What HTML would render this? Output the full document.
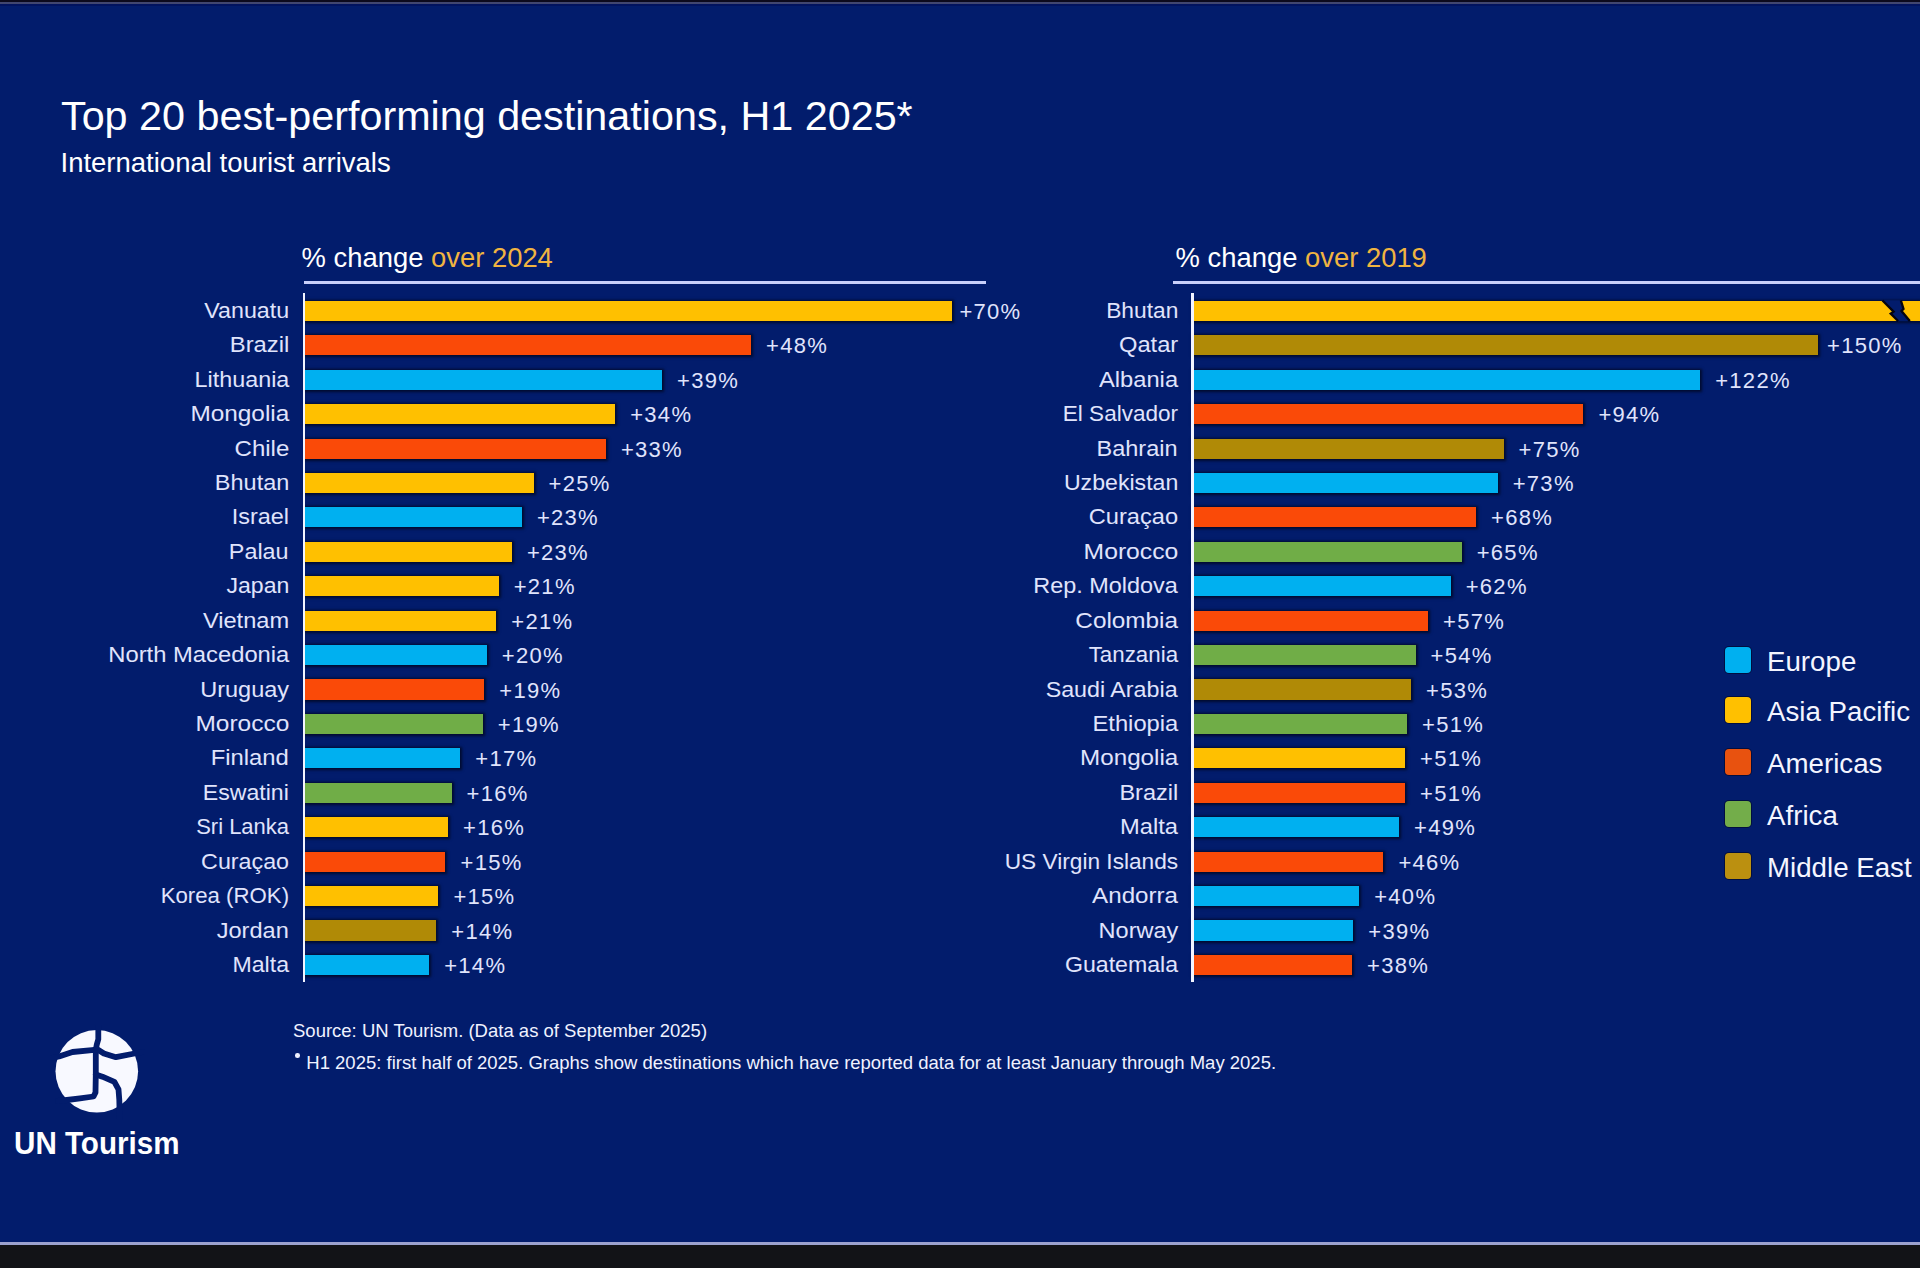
<!DOCTYPE html>
<html><head><meta charset="utf-8">
<style>
html,body{margin:0;padding:0;}
body{width:1920px;height:1268px;overflow:hidden;position:relative;background:#121317;font-family:"Liberation Sans",sans-serif;}
#top{position:absolute;left:0;top:0;width:1920px;height:2px;background:#0c0a1c;}
#topl{position:absolute;left:0;top:2px;width:1920px;height:2px;background:#41466f;}
#main{position:absolute;left:0;top:4px;width:1920px;height:1238px;background:#021c6c;}
#botl{position:absolute;left:0;top:1242px;width:1920px;height:3px;background:#9ca2cf;}
.t{position:absolute;white-space:nowrap;color:#fff;}
.lab{position:absolute;white-space:nowrap;color:#e0e4fc;font-size:22.5px;line-height:30px;text-align:right;transform-origin:100% 50%;}
.pct{position:absolute;white-space:nowrap;color:#e0e4fc;font-size:22px;line-height:30px;letter-spacing:1.3px;}
.bar{position:absolute;box-shadow:0 0 2.5px 1.5px rgba(0,0,10,0.62);}
.axis{position:absolute;width:2.2px;background:#f2f4ff;z-index:2;}
.hl{position:absolute;height:3px;background:#c9d0fa;}
.lg{position:absolute;width:26px;height:26px;border-radius:4px;box-shadow:0 0 0 1px rgba(0,0,20,0.5);}
.lgt{position:absolute;white-space:nowrap;color:#f4f5ff;font-size:27.7px;line-height:32px;}
.or{color:#f0b441;}
</style></head><body>
<div id="top"></div><div id="topl"></div><div style="position:absolute;left:0;top:4px;width:1920px;height:1.5px;background:#01135e;z-index:1"></div><div id="main"></div><div id="botl"></div>
<div class="t" style="left:61px;top:91.7px;font-size:41.3px;line-height:48px;">Top 20 best-performing destinations, H1 2025*</div>
<div class="t" style="left:60.5px;top:146.8px;font-size:27.5px;line-height:32px;">International tourist arrivals</div>

<div class="t" style="left:301.6px;top:241.7px;font-size:27.4px;line-height:32px;">% change <span class="or">over 2024</span></div>
<div class="hl" style="left:304px;top:280.5px;width:682px;"></div>
<div class="axis" style="left:303px;top:293px;height:689px;"></div>
<div class="lab" style="top:295.9px;right:1631.0px;transform:scaleX(1.0325)">Vanuatu</div>
<div class="bar" style="left:305.0px;top:300.8px;width:646.8px;height:20.2px;background:#ffc000"></div>
<div class="pct" style="top:296.9px;left:959.4px">+70%</div>
<div class="lab" style="top:330.3px;right:1631.0px;transform:scaleX(1.0577)">Brazil</div>
<div class="bar" style="left:305.0px;top:335.2px;width:446.0px;height:20.2px;background:#fa4a08"></div>
<div class="pct" style="top:331.3px;left:766.1px">+48%</div>
<div class="lab" style="top:364.7px;right:1631.0px;transform:scaleX(1.0371)">Lithuania</div>
<div class="bar" style="left:305.0px;top:369.6px;width:357.0px;height:20.2px;background:#00b0f0"></div>
<div class="pct" style="top:365.7px;left:677.1px">+39%</div>
<div class="lab" style="top:399.2px;right:1631.0px;transform:scaleX(1.0831)">Mongolia</div>
<div class="bar" style="left:305.0px;top:404.1px;width:310.1px;height:20.2px;background:#ffc000"></div>
<div class="pct" style="top:400.2px;left:630.2px">+34%</div>
<div class="lab" style="top:433.6px;right:1631.0px;transform:scaleX(1.0673)">Chile</div>
<div class="bar" style="left:305.0px;top:438.5px;width:300.8px;height:20.2px;background:#fa4a08"></div>
<div class="pct" style="top:434.6px;left:620.9px">+33%</div>
<div class="lab" style="top:468.0px;right:1631.0px;transform:scaleX(1.0441)">Bhutan</div>
<div class="bar" style="left:305.0px;top:472.9px;width:228.5px;height:20.2px;background:#ffc000"></div>
<div class="pct" style="top:469.0px;left:548.6px">+25%</div>
<div class="lab" style="top:502.4px;right:1631.0px;transform:scaleX(1.0412)">Israel</div>
<div class="bar" style="left:305.0px;top:507.3px;width:216.8px;height:20.2px;background:#00b0f0"></div>
<div class="pct" style="top:503.4px;left:536.9px">+23%</div>
<div class="lab" style="top:536.8px;right:1631.0px;transform:scaleX(1.0377)">Palau</div>
<div class="bar" style="left:305.0px;top:541.7px;width:206.8px;height:20.2px;background:#ffc000"></div>
<div class="pct" style="top:537.8px;left:526.9px">+23%</div>
<div class="lab" style="top:571.3px;right:1631.0px;transform:scaleX(1.0254)">Japan</div>
<div class="bar" style="left:305.0px;top:576.2px;width:193.6px;height:20.2px;background:#ffc000"></div>
<div class="pct" style="top:572.3px;left:513.7px">+21%</div>
<div class="lab" style="top:605.7px;right:1631.0px;transform:scaleX(1.05)">Vietnam</div>
<div class="bar" style="left:305.0px;top:610.6px;width:191.2px;height:20.2px;background:#ffc000"></div>
<div class="pct" style="top:606.7px;left:511.3px">+21%</div>
<div class="lab" style="top:640.1px;right:1631.0px;transform:scaleX(1.0568)">North Macedonia</div>
<div class="bar" style="left:305.0px;top:645.0px;width:181.7px;height:20.2px;background:#00b0f0"></div>
<div class="pct" style="top:641.1px;left:501.8px">+20%</div>
<div class="lab" style="top:674.5px;right:1631.0px;transform:scaleX(1.0446)">Uruguay</div>
<div class="bar" style="left:305.0px;top:679.4px;width:179.2px;height:20.2px;background:#fa4a08"></div>
<div class="pct" style="top:675.5px;left:499.3px">+19%</div>
<div class="lab" style="top:708.9px;right:1631.0px;transform:scaleX(1.088)">Morocco</div>
<div class="bar" style="left:305.0px;top:713.8px;width:177.7px;height:20.2px;background:#70ad47"></div>
<div class="pct" style="top:709.9px;left:497.8px">+19%</div>
<div class="lab" style="top:743.4px;right:1631.0px;transform:scaleX(1.0592)">Finland</div>
<div class="bar" style="left:305.0px;top:748.3px;width:155.2px;height:20.2px;background:#00b0f0"></div>
<div class="pct" style="top:744.4px;left:475.3px">+17%</div>
<div class="lab" style="top:777.8px;right:1631.0px;transform:scaleX(1.0262)">Eswatini</div>
<div class="bar" style="left:305.0px;top:782.7px;width:146.5px;height:20.2px;background:#70ad47"></div>
<div class="pct" style="top:778.8px;left:466.6px">+16%</div>
<div class="lab" style="top:812.2px;right:1631.0px;transform:scaleX(0.9774)">Sri Lanka</div>
<div class="bar" style="left:305.0px;top:817.1px;width:143.0px;height:20.2px;background:#ffc000"></div>
<div class="pct" style="top:813.2px;left:463.1px">+16%</div>
<div class="lab" style="top:846.6px;right:1631.0px;transform:scaleX(1.0341)">Cura&ccedil;ao</div>
<div class="bar" style="left:305.0px;top:851.5px;width:140.4px;height:20.2px;background:#fa4a08"></div>
<div class="pct" style="top:847.6px;left:460.5px">+15%</div>
<div class="lab" style="top:881.0px;right:1631.0px;transform:scaleX(0.9874)">Korea (ROK)</div>
<div class="bar" style="left:305.0px;top:885.9px;width:133.3px;height:20.2px;background:#ffc000"></div>
<div class="pct" style="top:882.0px;left:453.4px">+15%</div>
<div class="lab" style="top:915.5px;right:1631.0px;transform:scaleX(1.0478)">Jordan</div>
<div class="bar" style="left:305.0px;top:920.4px;width:131.2px;height:20.2px;background:#b08a06"></div>
<div class="pct" style="top:916.5px;left:451.3px">+14%</div>
<div class="lab" style="top:949.9px;right:1631.0px;transform:scaleX(1.0283)">Malta</div>
<div class="bar" style="left:305.0px;top:954.8px;width:124.1px;height:20.2px;background:#00b0f0"></div>
<div class="pct" style="top:950.9px;left:444.2px">+14%</div>

<div class="t" style="left:1175.6px;top:241.7px;font-size:27.4px;line-height:32px;">% change <span class="or">over 2019</span></div>
<div class="hl" style="left:1173px;top:280.5px;width:747px;"></div>
<div class="axis" style="left:1191.4px;top:293px;height:689px;"></div>
<div class="lab" style="top:295.9px;right:742.0px;transform:scaleX(1.0113)">Bhutan</div>
<div class="lab" style="top:330.3px;right:742.0px;transform:scaleX(1.0545)">Qatar</div>
<div class="bar" style="left:1193.0px;top:335.2px;width:624.9px;height:20.2px;background:#b08a06"></div>
<div class="pct" style="top:331.3px;left:1827.1px">+150%</div>
<div class="lab" style="top:364.7px;right:742.0px;transform:scaleX(1.0527)">Albania</div>
<div class="bar" style="left:1193.0px;top:369.6px;width:507.1px;height:20.2px;background:#00b0f0"></div>
<div class="pct" style="top:365.7px;left:1715.2px">+122%</div>
<div class="lab" style="top:399.2px;right:742.0px;transform:scaleX(1.0018)">El Salvador</div>
<div class="bar" style="left:1193.0px;top:404.1px;width:390.3px;height:20.2px;background:#fa4a08"></div>
<div class="pct" style="top:400.2px;left:1598.4px">+94%</div>
<div class="lab" style="top:433.6px;right:742.0px;transform:scaleX(1.0446)">Bahrain</div>
<div class="bar" style="left:1193.0px;top:438.5px;width:310.5px;height:20.2px;background:#b08a06"></div>
<div class="pct" style="top:434.6px;left:1518.6px">+75%</div>
<div class="lab" style="top:468.0px;right:742.0px;transform:scaleX(1.0278)">Uzbekistan</div>
<div class="bar" style="left:1193.0px;top:472.9px;width:304.6px;height:20.2px;background:#00b0f0"></div>
<div class="pct" style="top:469.0px;left:1512.7px">+73%</div>
<div class="lab" style="top:502.4px;right:742.0px;transform:scaleX(1.05)">Cura&ccedil;ao</div>
<div class="bar" style="left:1193.0px;top:507.3px;width:283.0px;height:20.2px;background:#fa4a08"></div>
<div class="pct" style="top:503.4px;left:1491.1px">+68%</div>
<div class="lab" style="top:536.8px;right:742.0px;transform:scaleX(1.0976)">Morocco</div>
<div class="bar" style="left:1193.0px;top:541.7px;width:268.6px;height:20.2px;background:#70ad47"></div>
<div class="pct" style="top:537.8px;left:1476.7px">+65%</div>
<div class="lab" style="top:571.3px;right:742.0px;transform:scaleX(1.0416)">Rep. Moldova</div>
<div class="bar" style="left:1193.0px;top:576.2px;width:257.6px;height:20.2px;background:#00b0f0"></div>
<div class="pct" style="top:572.3px;left:1465.7px">+62%</div>
<div class="lab" style="top:605.7px;right:742.0px;transform:scaleX(1.0806)">Colombia</div>
<div class="bar" style="left:1193.0px;top:610.6px;width:235.0px;height:20.2px;background:#fa4a08"></div>
<div class="pct" style="top:606.7px;left:1443.1px">+57%</div>
<div class="lab" style="top:640.1px;right:742.0px;transform:scaleX(0.9921)">Tanzania</div>
<div class="bar" style="left:1193.0px;top:645.0px;width:222.5px;height:20.2px;background:#70ad47"></div>
<div class="pct" style="top:641.1px;left:1430.6px">+54%</div>
<div class="lab" style="top:674.5px;right:742.0px;transform:scaleX(1.0341)">Saudi Arabia</div>
<div class="bar" style="left:1193.0px;top:679.4px;width:217.9px;height:20.2px;background:#b08a06"></div>
<div class="pct" style="top:675.5px;left:1426.0px">+53%</div>
<div class="lab" style="top:708.9px;right:742.0px;transform:scaleX(1.0557)">Ethiopia</div>
<div class="bar" style="left:1193.0px;top:713.8px;width:214.0px;height:20.2px;background:#70ad47"></div>
<div class="pct" style="top:709.9px;left:1422.1px">+51%</div>
<div class="lab" style="top:743.4px;right:742.0px;transform:scaleX(1.0764)">Mongolia</div>
<div class="bar" style="left:1193.0px;top:748.3px;width:212.0px;height:20.2px;background:#ffc000"></div>
<div class="pct" style="top:744.4px;left:1420.1px">+51%</div>
<div class="lab" style="top:777.8px;right:742.0px;transform:scaleX(1.0462)">Brazil</div>
<div class="bar" style="left:1193.0px;top:782.7px;width:212.0px;height:20.2px;background:#fa4a08"></div>
<div class="pct" style="top:778.8px;left:1420.1px">+51%</div>
<div class="lab" style="top:812.2px;right:742.0px;transform:scaleX(1.0528)">Malta</div>
<div class="bar" style="left:1193.0px;top:817.1px;width:205.9px;height:20.2px;background:#00b0f0"></div>
<div class="pct" style="top:813.2px;left:1414.0px">+49%</div>
<div class="lab" style="top:846.6px;right:742.0px;transform:scaleX(1.0077)">US Virgin Islands</div>
<div class="bar" style="left:1193.0px;top:851.5px;width:190.3px;height:20.2px;background:#fa4a08"></div>
<div class="pct" style="top:847.6px;left:1398.4px">+46%</div>
<div class="lab" style="top:881.0px;right:742.0px;transform:scaleX(1.0734)">Andorra</div>
<div class="bar" style="left:1193.0px;top:885.9px;width:166.1px;height:20.2px;background:#00b0f0"></div>
<div class="pct" style="top:882.0px;left:1374.2px">+40%</div>
<div class="lab" style="top:915.5px;right:742.0px;transform:scaleX(1.0446)">Norway</div>
<div class="bar" style="left:1193.0px;top:920.4px;width:160.2px;height:20.2px;background:#00b0f0"></div>
<div class="pct" style="top:916.5px;left:1368.3px">+39%</div>
<div class="lab" style="top:949.9px;right:742.0px;transform:scaleX(1.0278)">Guatemala</div>
<div class="bar" style="left:1193.0px;top:954.8px;width:158.9px;height:20.2px;background:#fa4a08"></div>
<div class="pct" style="top:950.9px;left:1367.0px">+38%</div>
<div class="bar" style="left:1193px;top:300.8px;width:727px;height:20.2px;background:#ffc000"></div>
<svg style="position:absolute;left:1870px;top:292px" width="50" height="36" viewBox="0 0 50 36">
<polygon points="12.3,8.3 23.6,19.6 20.7,21.6 28.1,29.3 39.9,29.3 31.5,19 33.5,17 30.9,8.3" fill="#021c6c"/>
<polyline points="12.5,8.5 23.6,19.6 20.7,21.6 28.1,29" fill="none" stroke="#050510" stroke-width="2.3" stroke-linejoin="miter"/>
<polyline points="30.9,8.5 33.5,17 31.5,19 39.8,29" fill="none" stroke="#050510" stroke-width="2.3" stroke-linejoin="miter"/>
</svg>

<div class="lg" style="left:1725px;top:647px;background:#00b0f0"></div>
<div class="lgt" style="left:1767px;top:646px;">Europe</div>
<div class="lg" style="left:1725px;top:697px;background:#ffc000"></div>
<div class="lgt" style="left:1767px;top:696px;">Asia Pacific</div>
<div class="lg" style="left:1725px;top:749px;background:#e8520f"></div>
<div class="lgt" style="left:1767px;top:748px;">Americas</div>
<div class="lg" style="left:1725px;top:801px;background:#73ad4a"></div>
<div class="lgt" style="left:1767px;top:800px;">Africa</div>
<div class="lg" style="left:1725px;top:853px;background:#bb9010"></div>
<div class="lgt" style="left:1767px;top:852px;">Middle East</div>

<div class="t" style="left:293px;top:1019px;font-size:18.5px;line-height:24px;color:#f0f2ff;">Source: UN Tourism. (Data as of September 2025)</div>
<div style="position:absolute;left:295px;top:1053.3px;width:4.6px;height:4.6px;border-radius:50%;background:#eef0ff;"></div>
<div class="t" style="left:306.3px;top:1051px;font-size:18.5px;line-height:24px;color:#f0f2ff;">H1 2025: first half of 2025. Graphs show destinations which have reported data for at least January through May 2025.</div>

<svg style="position:absolute;left:50px;top:1025px" width="95" height="95" viewBox="0 0 95 95">
<circle cx="46.8" cy="46.3" r="41.3" fill="#f8f9ff"/>
<g fill="none" stroke="#021c6c" stroke-width="5.8" stroke-linecap="round" stroke-linejoin="round">
<path d="M48.3,1 L48.3,14.2 L46.8,19.5 L45.8,24.7 L45.8,49.4 L45.5,67.4 L43.5,71.5 L30,73.4 L17,75 L8,76"/>
<path d="M2,33 L9,31.5 L22.5,27 L42,25.1 L45.8,24.7"/>
<path d="M45.8,24.7 L48,24.7 L53.9,28.5 L65.9,32.2 L84.6,28.5 L93,27"/>
<path d="M45.8,49.4 L52.4,51.7 L64.4,56.9 L68.5,64.4 L69.3,74.9 L69.7,93"/>
</g>
</svg>
<div class="t" style="left:14px;top:1124.9px;font-size:32px;line-height:36px;font-weight:bold;transform:scaleX(0.925);transform-origin:0 0;">UN Tourism</div>
</body></html>
